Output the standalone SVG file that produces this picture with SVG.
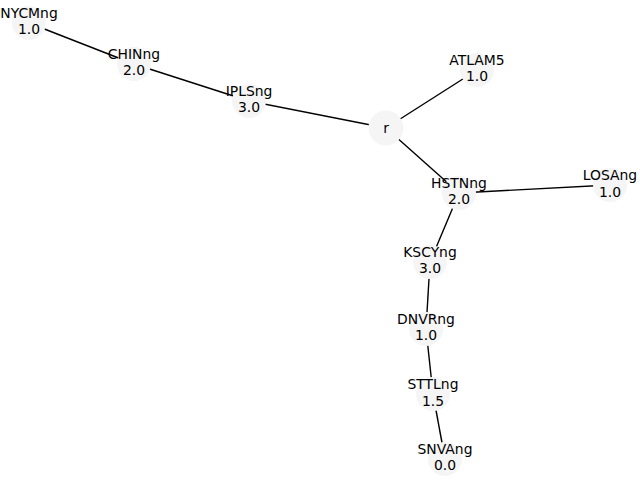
<svg xmlns="http://www.w3.org/2000/svg" width="640" height="480" viewBox="0 0 640 480">
  <style>
    .edge { stroke: #000; stroke-width: 1.4; fill: none; }
    .node circle { fill: #f5f5f5; stroke: none; }
    .node text { font-family: "DejaVu Sans", sans-serif; font-size: 13.9px; fill: #000; text-anchor: middle; }
  </style>
  <rect width="640" height="480" fill="#fff"/>
  <g id="connectors">
    <line class="edge" x1="29" y1="23" x2="134" y2="64"/>
    <line class="edge" x1="134" y1="64" x2="249" y2="101"/>
    <line class="edge" x1="249" y1="101" x2="386" y2="128"/>
    <line class="edge" x1="386" y1="128" x2="477" y2="70"/>
    <line class="edge" x1="386" y1="128" x2="459" y2="193"/>
    <line class="edge" x1="459" y1="193" x2="610" y2="185"/>
    <line class="edge" x1="459" y1="193" x2="430" y2="262"/>
    <line class="edge" x1="430" y1="262" x2="426" y2="329"/>
    <line class="edge" x1="426" y1="329" x2="433" y2="394"/>
    <line class="edge" x1="433" y1="394" x2="445" y2="459"/>
  </g>
  <g id="r" class="node">
    <circle cx="386" cy="128" r="17.5"/>
    <text x="386" y="133">r</text>
  </g>
  <g id="NYCMng" class="node">
    <circle cx="29" cy="23" r="17"/>
    <text x="29" y="18">NYCMng</text>
    <text x="29" y="34">1.0</text>
  </g>
  <g id="CHINng" class="node">
    <circle cx="134" cy="64" r="17"/>
    <text x="134" y="59">CHINng</text>
    <text x="134" y="75">2.0</text>
  </g>
  <g id="IPLSng" class="node">
    <circle cx="249" cy="101" r="17"/>
    <text x="249" y="96">IPLSng</text>
    <text x="249" y="112">3.0</text>
  </g>
  <g id="ATLAM5" class="node">
    <circle cx="477" cy="70" r="17"/>
    <text x="477" y="65">ATLAM5</text>
    <text x="477" y="81">1.0</text>
  </g>
  <g id="HSTNng" class="node">
    <circle cx="459" cy="193" r="17"/>
    <text x="459" y="188">HSTNng</text>
    <text x="459" y="204">2.0</text>
  </g>
  <g id="LOSAng" class="node">
    <circle cx="610" cy="185" r="17"/>
    <text x="610" y="180">LOSAng</text>
    <text x="610" y="197">1.0</text>
  </g>
  <g id="KSCYng" class="node">
    <circle cx="430" cy="262" r="17"/>
    <text x="430" y="257">KSCYng</text>
    <text x="430" y="273">3.0</text>
  </g>
  <g id="DNVRng" class="node">
    <circle cx="426" cy="329" r="17"/>
    <text x="426" y="324">DNVRng</text>
    <text x="426" y="340">1.0</text>
  </g>
  <g id="STTLng" class="node">
    <circle cx="433" cy="394" r="17"/>
    <text x="433" y="389">STTLng</text>
    <text x="433" y="406">1.5</text>
  </g>
  <g id="SNVAng" class="node">
    <circle cx="445" cy="459" r="17"/>
    <text x="445" y="454">SNVAng</text>
    <text x="445" y="470">0.0</text>
  </g>
</svg>
